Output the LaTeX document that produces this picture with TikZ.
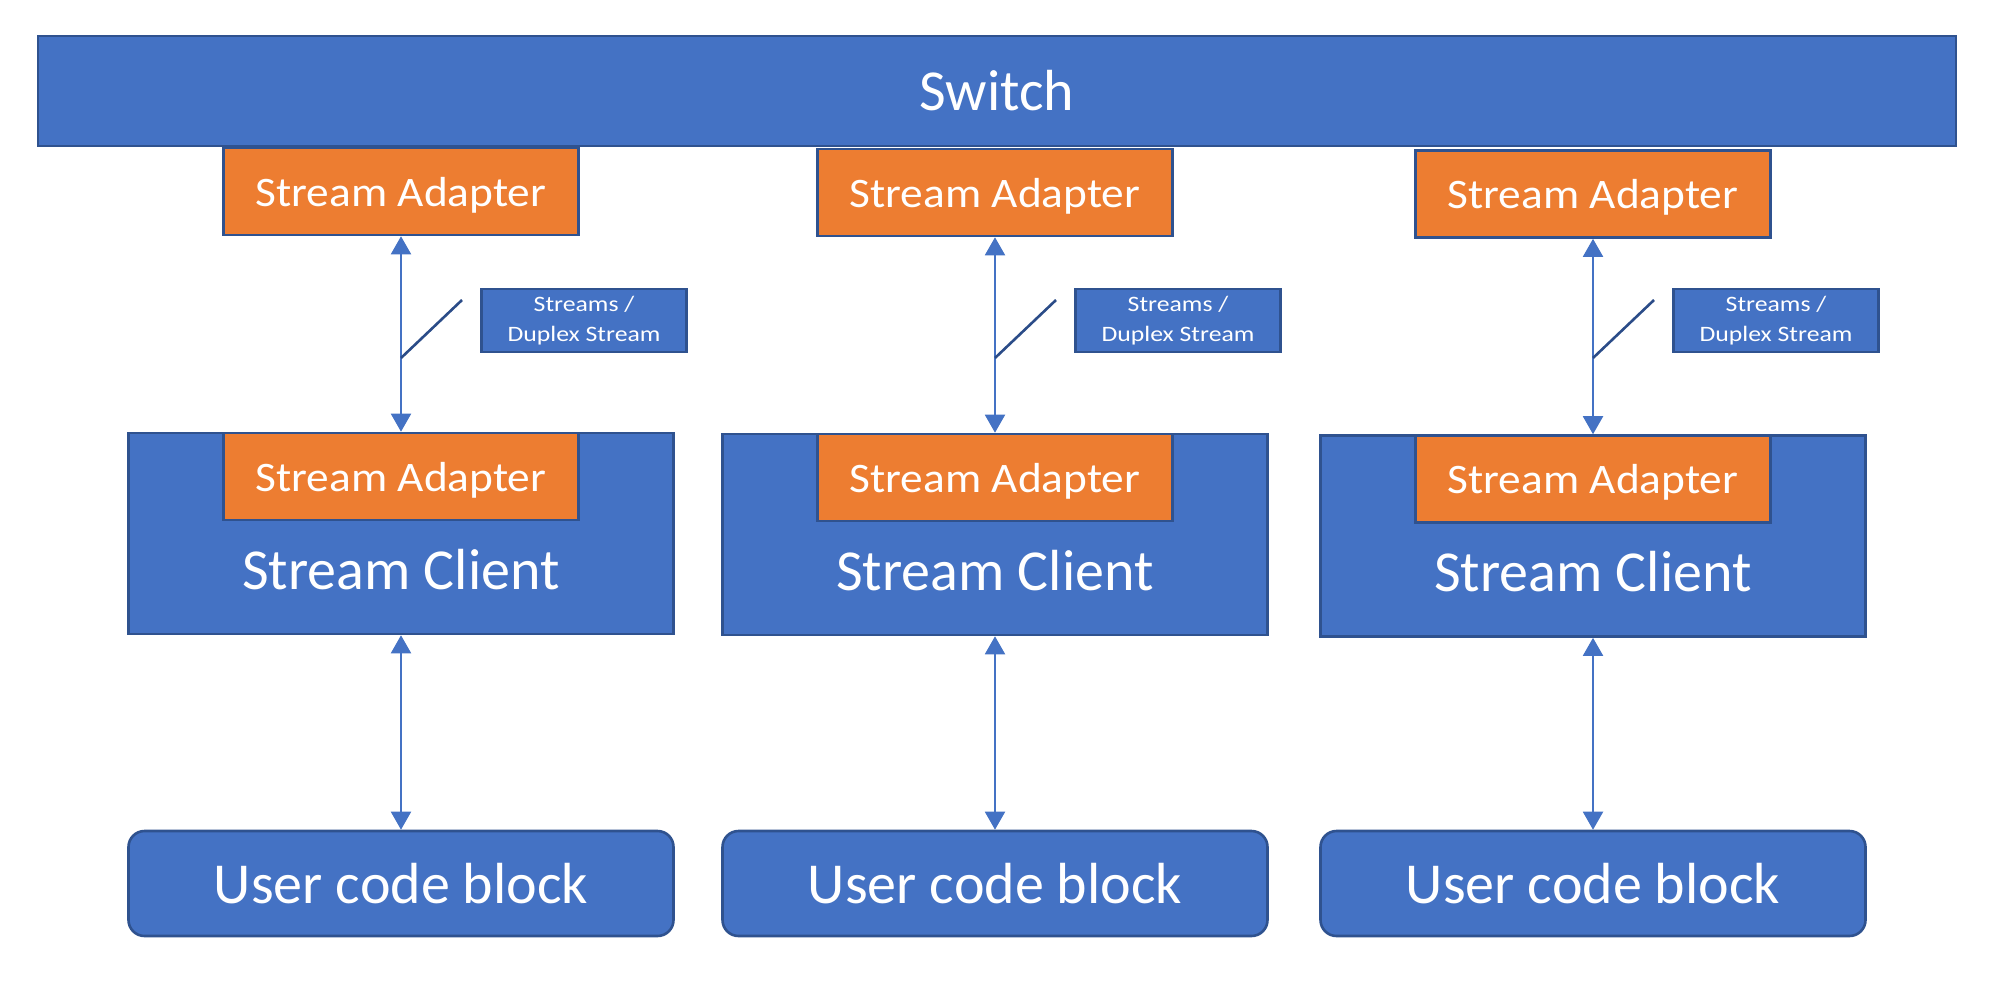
\documentclass[tikz,border=0pt]{standalone}
\usepackage{fontspec}
\setmainfont{Carlito}
\usetikzlibrary{arrows.meta}
\definecolor{blu}{HTML}{4472C4}
\definecolor{edgeblue}{HTML}{2F528F}
\definecolor{org}{HTML}{ED7D31}
\definecolor{slashblue}{HTML}{2B4C88}
\newcommand{\wideA}[1]{\scalebox{1.08}[1]{#1}}
\newcommand{\wideL}[1]{\scalebox{1.17}[1]{#1}}
\begin{document}
\begin{tikzpicture}[x=1pt,y=-1pt,
  bluebox/.style={draw=edgeblue,line width=2.6pt,fill=blu,text=white,inner sep=0pt},
  adapter/.style={draw=edgeblue,line width=2.6pt,fill=org,text=white,inner sep=0pt,
    minimum width=355pt,minimum height=87pt,text depth=0pt,font=\fontsize{42}{50}\selectfont},
  client/.style={bluebox,minimum width=545pt,minimum height=201pt},
  userblock/.style={bluebox,rounded corners=16pt,minimum width=545pt,minimum height=105pt,
    font=\fontsize{58}{68}\selectfont},
  labelbox/.style={bluebox,minimum width=205pt,minimum height=63pt,align=center,
    font=\fontsize{22}{30}\selectfont},
  conn/.style={draw=blu,line width=2pt,{Triangle[width=20pt,length=18pt]}-{Triangle[width=20pt,length=18pt]}},
  slashline/.style={draw=slashblue,line width=2.6pt}
]
\useasboundingbox[fill=white] (0,0) rectangle (1995,993);
\node[bluebox,minimum width=1918pt,minimum height=110pt,font=\fontsize{58}{68}\selectfont] (sw) at (997,91) {Switch};
\foreach \x/\d/\n in {401/0/1, 995/1/2, 1593/2.5/3}{
  \node[adapter] (ta\n) at (\x,191.5+\d) {\wideA{Stream Adapter}};
  \node[client] (cl\n) at (\x,533.5+\d) {};
  \node[adapter] (ia\n) at (\x,476.5+\d) {\wideA{Stream Adapter}};
  \node[anchor=base,text=white,inner sep=0pt,font=\fontsize{58}{68}\selectfont] (ct\n) at (\x,589+\d) {Stream Client};
  \node[userblock] (ub\n) at (\x,883.5) {User code block};
  \node[labelbox] (lb\n) at (\x+183,320.5) {\wideL{Streams /}\\\wideL{Duplex Stream}};
  \draw[conn] (ta\n.south) -- (cl\n.north);
  \draw[conn] (cl\n.south) -- (ub\n.north);
  \coordinate (sa\n) at (\x,358);
  \coordinate (sb\n) at (\x+61,300);
  \draw[slashline] (sa\n) -- (sb\n);
}
\end{tikzpicture}
\end{document}
